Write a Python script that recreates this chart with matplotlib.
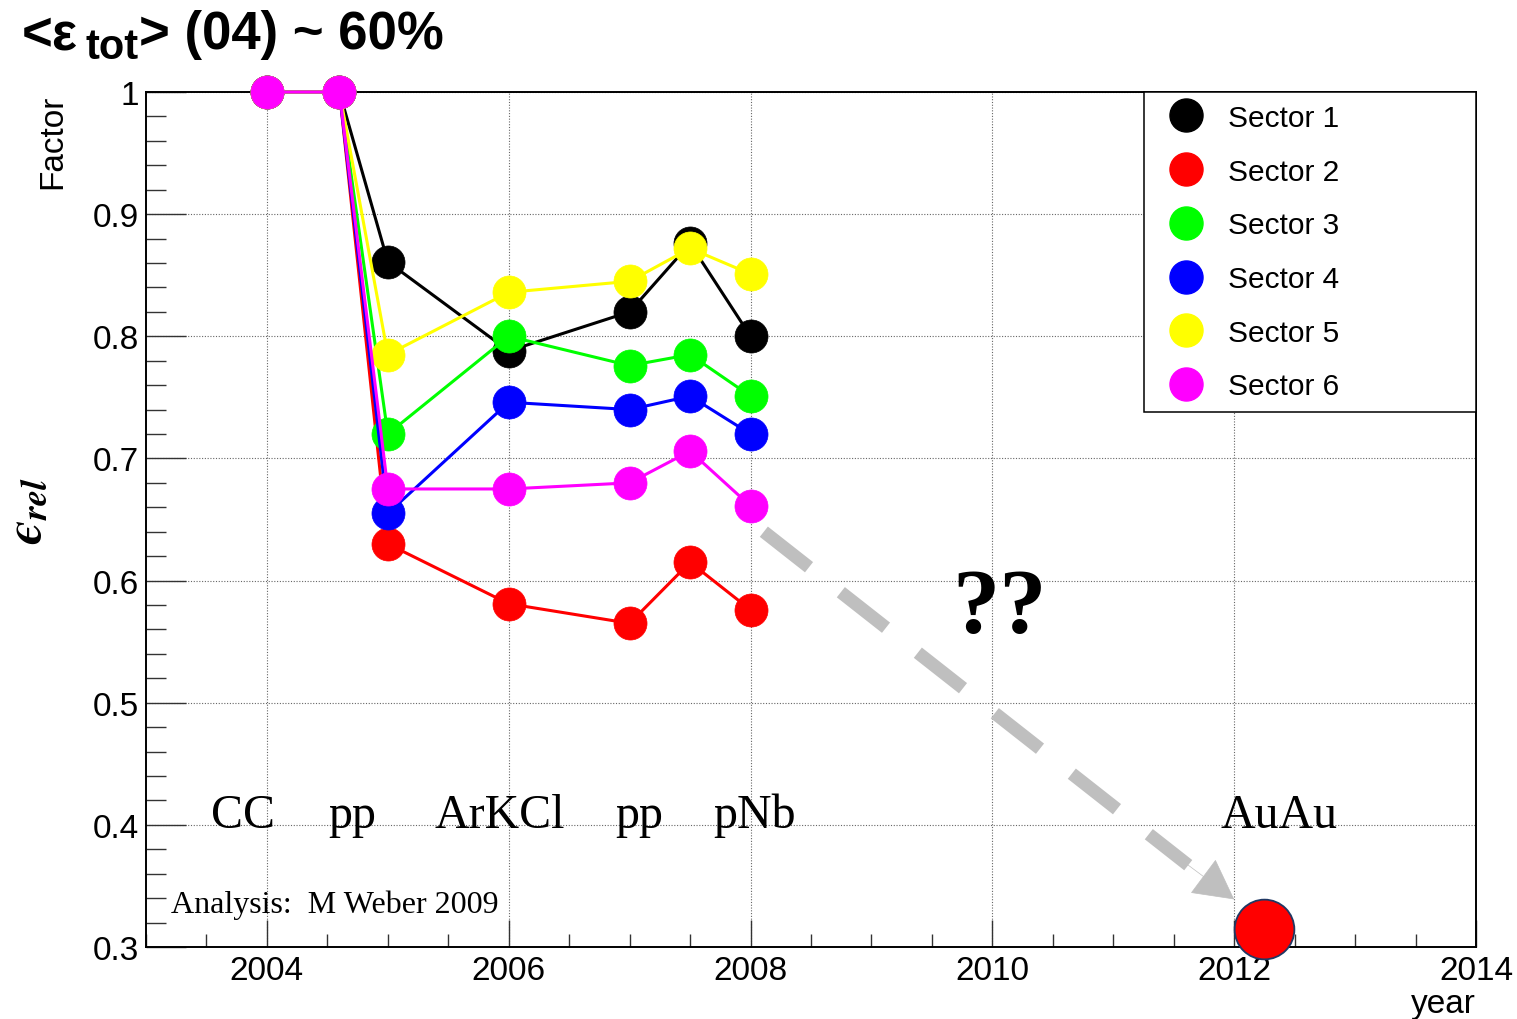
import matplotlib.pyplot as plt
from matplotlib.lines import Line2D
from matplotlib.ticker import MultipleLocator, FuncFormatter

plt.rcParams['font.family'] = ['Liberation Sans', 'DejaVu Sans']

# run years and relative efficiency per sector
years = [2004.0, 2004.6, 2005.0, 2006.0, 2007.0, 2007.5, 2008.0]
sector_1 = [1.0, 1.0, 0.861, 0.788, 0.820, 0.876, 0.800]
sector_2 = [1.0, 1.0, 0.630, 0.581, 0.565, 0.615, 0.576]
sector_3 = [1.0, 1.0, 0.720, 0.800, 0.776, 0.785, 0.751]
sector_4 = [1.0, 1.0, 0.655, 0.746, 0.740, 0.751, 0.720]
sector_5 = [1.0, 1.0, 0.785, 0.836, 0.845, 0.872, 0.851]
sector_6 = [1.0, 1.0, 0.675, 0.675, 0.680, 0.706, 0.661]
sectors = [sector_1, sector_2, sector_3, sector_4, sector_5, sector_6]
sector_names = ["Sector 1", "Sector 2", "Sector 3", "Sector 4", "Sector 5", "Sector 6"]
sector_colors = ["#000000", "#FF0000", "#00FF00", "#0000FF", "#FFFF00", "#FF00FF"]

# projected AuAu point
auau_year = 2012.25
auau_value = 0.315

# beam time labels
period_labels = ["CC", "pp", "ArKCl", "pp", "pNb", "AuAu"]
period_x = [2003.54, 2004.51, 2005.39, 2006.88, 2007.69, 2011.89]
period_y = 0.398

# extrapolation arrow
arrow_start = (2008.11, 0.640)
arrow_end = (2011.62, 0.367)
arrow_tip = (2012.0, 0.339)

W, H = 1517, 1020
fig = plt.figure(figsize=(W / 100, H / 100), dpi=100)
ax = fig.add_axes([146 / W, 72 / H, 1330 / W, 855 / H])

ms = 23.8
for vals, col in zip(sectors, sector_colors):
    ax.plot(years, vals, color=col, lw=2.2, marker="o", markersize=ms,
            markeredgecolor=col, markeredgewidth=0.5, clip_on=False, zorder=3)

ax.plot([auau_year], [auau_value], marker="o", markersize=43, color="#FF0000",
        markeredgecolor="#1F3864", markeredgewidth=1.3, clip_on=False, zorder=6)

# dashed arrow
ax.plot([arrow_start[0], arrow_end[0]], [arrow_start[1], arrow_end[1]],
        color="#BFBFBF", lw=9.4, dashes=(4.4, 3.1), dash_capstyle="butt", zorder=2)
ax.annotate("", xy=arrow_tip, xytext=arrow_end,
            arrowprops=dict(arrowstyle="-|>,head_length=0.9,head_width=0.48",
                            mutation_scale=30, color="#BFBFBF", lw=0.5,
                            shrinkA=0, shrinkB=0), zorder=2)

for lab, x in zip(period_labels, period_x):
    ax.text(x, period_y, lab, family="Liberation Serif", fontsize=34.5,
            ha="left", va="baseline", zorder=5)
ax.text(2010.06, 0.558, "??", family="Liberation Serif", fontweight="bold",
        fontsize=68, ha="center", va="baseline")
ax.text(2003.207, 0.3287, "Analysis:  M Weber 2009", family="Liberation Serif",
        fontsize=23, ha="left", va="baseline")

ax.set_xlim(2003, 2014)
ax.set_ylim(0.3, 1.0)
ax.xaxis.set_major_locator(MultipleLocator(2))
ax.xaxis.set_minor_locator(MultipleLocator(0.5))
ax.yaxis.set_major_locator(MultipleLocator(0.1))
ax.yaxis.set_minor_locator(MultipleLocator(0.02))
ax.xaxis.set_major_formatter(FuncFormatter(lambda v, p: f"{v:.0f}"))
ax.yaxis.set_major_formatter(FuncFormatter(lambda v, p: f"{v:.1f}".rstrip("0").rstrip(".")))
ax.tick_params(which="both", direction="in", top=False, right=False,
               labelsize=24, color="#333333", width=1.0)
ax.tick_params(axis="x", which="major", length=19.5, pad=6)
ax.tick_params(axis="x", which="minor", length=9.5)
ax.tick_params(axis="y", which="major", length=29, pad=5)
ax.tick_params(axis="y", which="minor", length=14.5)
ax.grid(True, which="major", linestyle=(0, (1, 1.5)), color="#666666", lw=0.8)
ax.set_axisbelow(True)
for s in ax.spines.values():
    s.set_linewidth(1.4)

handles = [Line2D([], [], linestyle="none", marker="o", markersize=ms,
                  color=c, markeredgecolor=c) for c in sector_colors]
leg = ax.legend(handles, sector_names, loc="upper left",
                bbox_to_anchor=(998 / 1330, 0, 332 / 1330, 1), mode="expand",
                borderaxespad=0, fancybox=False, edgecolor="black", framealpha=1,
                fontsize=21.5, handlelength=2.0, handletextpad=0.41,
                borderpad=0.4, labelspacing=0.86)
leg.get_frame().set_linewidth(1.1)
leg.set_zorder(10)

# title built from pieces so the subscript can be sized freely
renderer = fig.canvas.get_renderer()
t1 = fig.text(22 / W, 1 - 49 / H, "<ε", fontsize=38, fontweight="bold",
              ha="left", va="baseline")
x1 = t1.get_window_extent(renderer).x1
t2 = fig.text((x1 + 7) / W, 1 - 59 / H, "tot", fontsize=30, fontweight="bold",
              ha="left", va="baseline")
x2 = t2.get_window_extent(renderer).x1
fig.text((x2 + 1) / W, 1 - 49 / H, "> (04) ~ 60%", fontsize=38, fontweight="bold",
         ha="left", va="baseline")

fig.text(53 / W, 1 - 142 / H, "Factor", fontsize=24, rotation=90,
         ha="center", va="center")
fig.text(28 / W, 1 - 510 / H, "$\\mathbfit{\u03f5}_{\\mathbfit{rel}}$",
         fontsize=37, rotation=90, math_fontfamily="stix", ha="center", va="center")
fig.text(1476 / W, 1 - 1013 / H, "year", fontsize=24, ha="right", va="baseline")

fig.savefig("out.png", dpi=100)
